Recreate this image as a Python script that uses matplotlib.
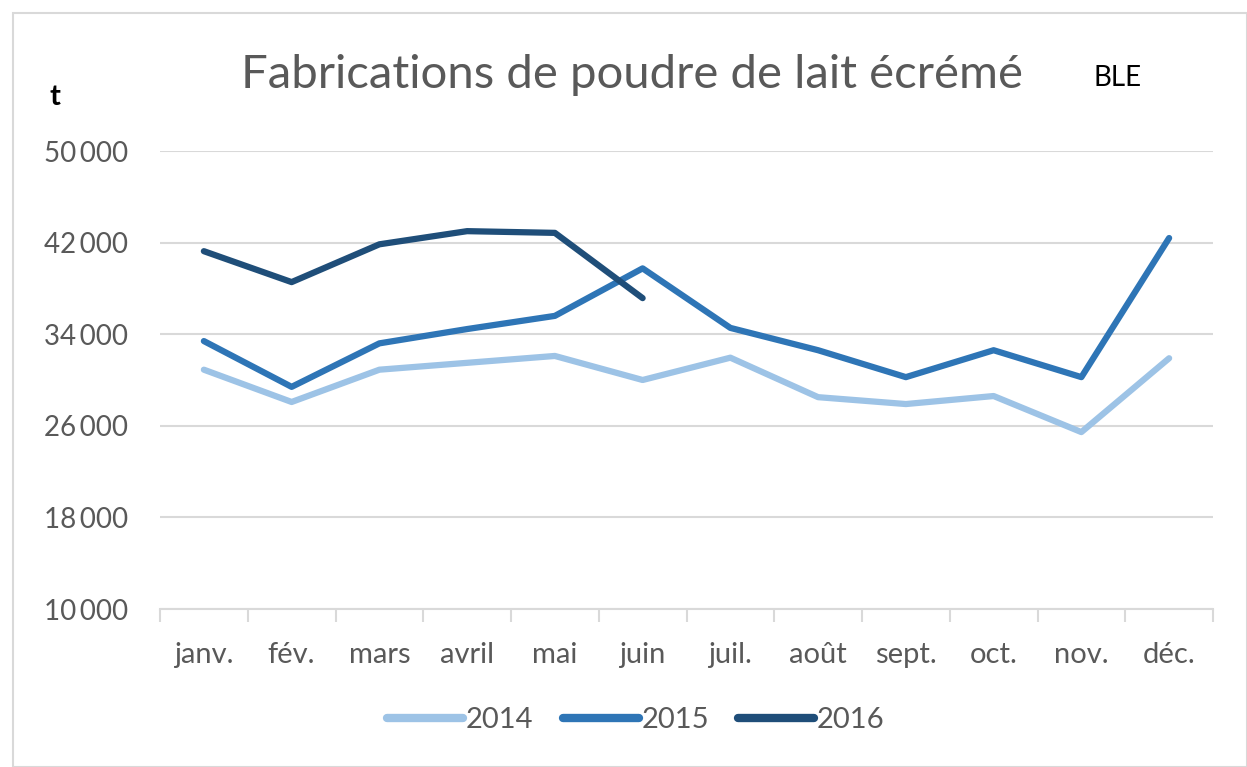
import matplotlib.pyplot as plt
import numpy as np
from matplotlib.patches import Rectangle
from matplotlib.ticker import FixedLocator, FuncFormatter

months = ["janv.", "fév.", "mars", "avril", "mai", "juin", "juil.", "août", "sept.", "oct.", "nov.", "déc."]
v2014 = [30900, 28080, 30900, 31500, 32100, 30000, 31950, 28500, 27900, 28600, 25450, 31900]
v2015 = [33400, 29400, 33200, 34450, 35600, 39750, 34550, 32600, 30250, 32600, 30250, 42400]
v2016 = [41250, 38550, 41850, 43000, 42850, 37150]
yticks = [10000, 18000, 26000, 34000, 42000, 50000]
series_names = ["2014", "2015", "2016"]
colors = ["#9dc3e6", "#2e75b6", "#1f4e79"]

plt.rcParams['font.family'] = ['Lato', 'DejaVu Sans']

fig = plt.figure(figsize=(12.47, 7.67), dpi=100)
fig.patches.append(Rectangle((13/1247, 0), 1 - 13/1247, 1 - 13/767, transform=fig.transFigure,
                             fill=False, edgecolor="#d9d9d9", linewidth=1.5))

ax = fig.add_axes([160/1247, 1 - 609/767, (1213 - 160)/1247, (609 - 151)/767])
x = np.arange(len(months))
for vals, name, c in zip([v2014, v2015, v2016], series_names, colors):
    ax.plot(x[:len(vals)], vals, color=c, linewidth=4.5, label=name, solid_capstyle='round', solid_joinstyle='round')

ax.set_xlim(-0.5, len(months) - 0.5)
ax.set_ylim(yticks[0], yticks[-1])
ax.yaxis.set_major_locator(FixedLocator(yticks))
ax.yaxis.set_major_formatter(FuncFormatter(lambda v, p: f"{int(v):,}".replace(",", "\u2009")))
ax.grid(axis='y', color="#d9d9d9", linewidth=1.5)
ax.set_axisbelow(True)
for s in ["top", "right", "left"]:
    ax.spines[s].set_visible(False)
ax.spines["bottom"].set_color("#d9d9d9")
ax.spines["bottom"].set_linewidth(1.5)
ax.tick_params(axis='y', length=0, labelsize=20, labelcolor="#595959", pad=23)
ax.set_xticks(np.arange(-0.5, len(months) + 0.5, 1))
ax.set_xticklabels([])
ax.set_xticks(x, minor=True)
ax.set_xticklabels(months, minor=True)
ax.tick_params(axis='x', which='major', length=9, color="#d9d9d9", width=1.5)
ax.tick_params(axis='x', which='minor', length=0, labelsize=21, labelcolor="#595959", pad=24)

fig.text(632/1247, 1 - 75/767, "Fabrications de poudre de lait écrémé", ha='center', va='center',
         fontsize=34, color="#595959")
fig.text(1118/1247, 1 - 78/767, "BLE", ha='center', va='center', fontsize=20, color="black")
fig.text(55/1247, 1 - 97/767, "t", ha='center', va='center', fontsize=21, color="black", fontweight='bold')

leg = fig.legend(loc='center', bbox_to_anchor=(636/1247, 1 - 720/767), ncol=3, frameon=False,
                 fontsize=21, handlelength=2.6, columnspacing=1.0, handletextpad=0.1)
for t in leg.get_texts():
    t.set_color("#595959")
for h in leg.get_lines():
    h.set_linewidth(6)

fig.savefig("out.png", dpi=100)
